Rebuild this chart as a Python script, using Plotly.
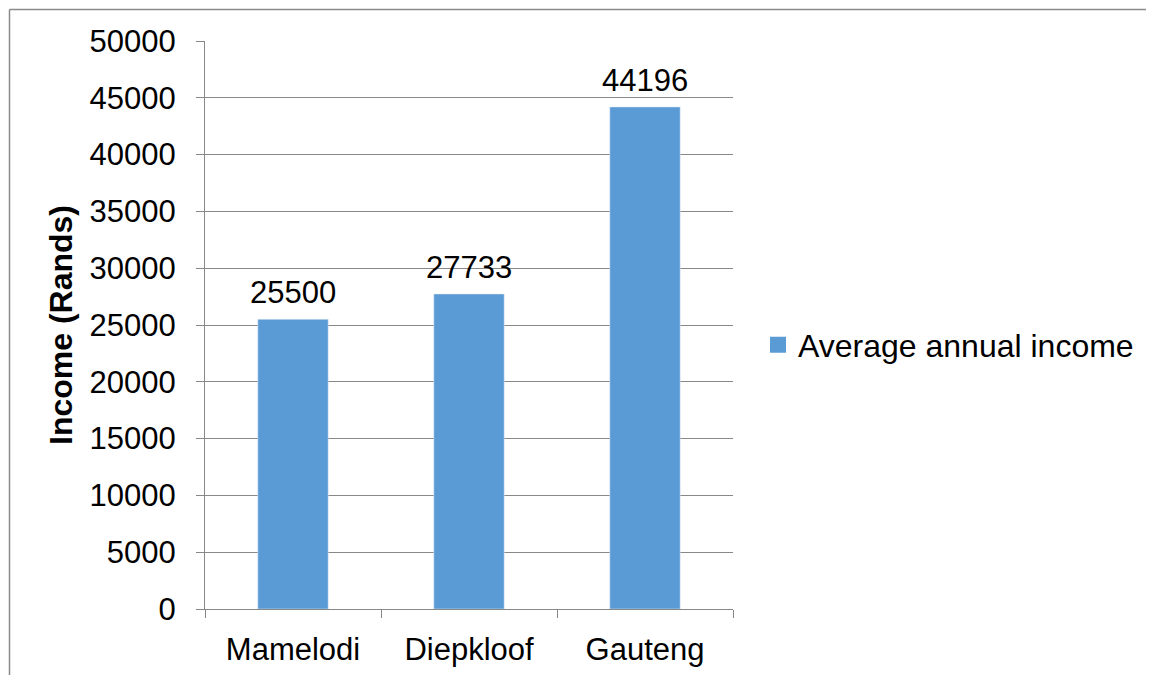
import plotly.graph_objects as go

categories = ["Mamelodi", "Diepkloof", "Gauteng"]
income = [25500, 27733, 44196]
series_name = "Average annual income"
y_ticks = [0, 5000, 10000, 15000, 20000, 25000, 30000, 35000, 40000, 45000, 50000]

W, H = 1154, 675
OFF = 8  # page body margin offset
L, R, T, B = 205 - OFF, 733 - OFF, 41 - OFF, 609 - OFF
FONT = "Liberation Sans, Arial, sans-serif"
BAR = "#5B9BD5"
GRID = "#888888"

fig = go.Figure()
fig.add_trace(go.Bar(x=categories, y=income, marker_color=BAR, showlegend=False,
                     width=0.4))
fig.add_trace(go.Scatter(x=[None], y=[None], mode="markers", name=series_name,
                         marker=dict(symbol="square", size=17, color=BAR)))

for c, v in zip(categories, income):
    fig.add_annotation(x=c, y=v, text=str(v), showarrow=False, yanchor="bottom",
                       yshift=7, font=dict(size=31, color="#000", family=FONT))

def px(xp):
    return (xp - OFF - L) / (R - L)

def py(yp):
    return (B - (yp - OFF)) / (B - T)

# outer chart border (top and left)
fig.add_shape(type="line", xref="paper", yref="paper", x0=px(9.5), x1=px(1170),
              y0=py(9.5), y1=py(9.5), line=dict(color="#8a8a8a", width=1.5))
fig.add_shape(type="line", xref="paper", yref="paper", x0=px(9.5), x1=px(9.5),
              y0=py(9.5), y1=py(690), line=dict(color="#8a8a8a", width=1.5))

fig.update_layout(
    width=W, height=H,
    margin=dict(l=L, r=W - R, t=T, b=H - B),
    plot_bgcolor="white", paper_bgcolor="white",
    font=dict(family=FONT, size=31, color="#000"),
    showlegend=True,
    legend=dict(x=px(758), xanchor="left", y=py(345), yanchor="middle",
                font=dict(size=32, color="#000"), itemsizing="trace",
                bgcolor="rgba(0,0,0,0)", itemwidth=30),
    xaxis=dict(showgrid=False, showline=True, linecolor=GRID, linewidth=1,
               ticks="outside", tickson="boundaries", ticklen=8, tickcolor=GRID,
               tickfont=dict(size=31, family=FONT), ticklabelstandoff=13),
    yaxis=dict(range=[0, 50000], tickvals=y_ticks, ticktext=[str(t) for t in y_ticks],
               showgrid=True, gridcolor=GRID, gridwidth=1, zeroline=False,
               showline=True, linecolor=GRID, linewidth=1,
               ticks="outside", ticklen=8, tickcolor=GRID,
               tickfont=dict(size=31, family=FONT), ticklabelstandoff=14,
               title=dict(text="<b>Income (Rands)</b>", font=dict(size=32, family=FONT),
                          standoff=7)),
)

fig.write_html("out.html")
